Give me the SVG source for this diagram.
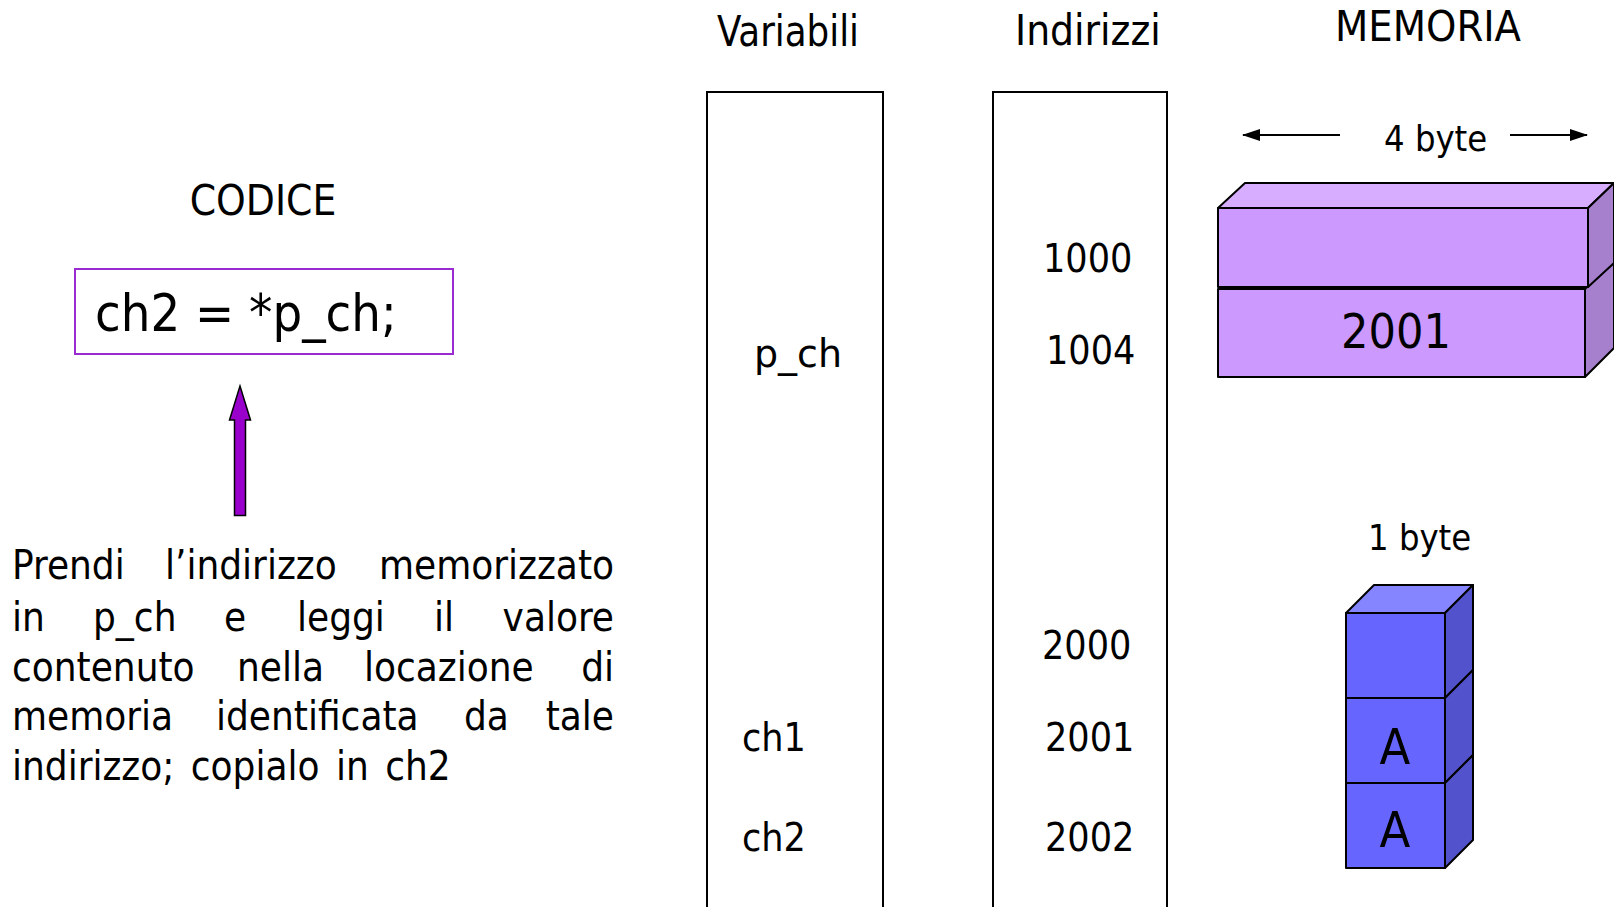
<svg xmlns="http://www.w3.org/2000/svg" width="1614" height="907" viewBox="0 0 1614 907">
<style>
text{font-family:"DejaVu Sans Condensed","DejaVu Sans",sans-serif;font-stretch:semi-condensed;fill:#000}
.h{font-size:42px}
.s{font-size:36px}
.n{font-size:39px}
.p{font-size:40px}
.col{fill:#fff;stroke:#000;stroke-width:2}
.pf{fill:#CC99FF;stroke:#000;stroke-width:2;stroke-linejoin:round}
.pt{fill:#D6ADFF;stroke:#000;stroke-width:2;stroke-linejoin:round}
.ps{fill:#A680CC;stroke:#000;stroke-width:2;stroke-linejoin:round}
.bf{fill:#6666FF;stroke:#000;stroke-width:2;stroke-linejoin:round}
.bt{fill:#8585FF;stroke:#000;stroke-width:2;stroke-linejoin:round}
.bs{fill:#5252CC;stroke:#000;stroke-width:2;stroke-linejoin:round}
.dim{stroke:#000;stroke-width:2;fill:none}
</style>
<defs>
<marker id="ah2" markerWidth="18" markerHeight="12" refX="17" refY="6" orient="auto" markerUnits="userSpaceOnUse" viewBox="0 0 18 12">
<path d="M0,0 L18,6 L0,12 z" fill="#000"/>
</marker>
</defs>

<g id="headings">
<text class="h" x="717" y="46" textLength="142" lengthAdjust="spacingAndGlyphs">Variabili</text>
<text class="h" x="1015" y="45">Indirizzi</text>
<text class="h" x="1335" y="41" textLength="186" lengthAdjust="spacingAndGlyphs">MEMORIA</text>
<text class="h" x="263" y="215" text-anchor="middle">CODICE</text>
</g>

<g id="code">
<rect x="75" y="269" width="378" height="85" fill="#fff" stroke="#9A2BD0" stroke-width="2"/>
<text x="95" y="331" font-size="52">ch2 = *p_ch;</text>
</g>

<g id="connectors">
<path d="M234.5,515.5 L245.5,515.5 L245.5,420 L250.5,420 L240,386 L229.5,420 L234.5,420 Z" fill="#9900CC" stroke="#000" stroke-width="1.5" stroke-linejoin="miter"/>
<line class="dim" x1="1340" y1="135" x2="1243" y2="135" marker-end="url(#ah2)"/>
<line class="dim" x1="1510" y1="135" x2="1587" y2="135" marker-end="url(#ah2)"/>
</g>

<g id="description">
<text class="p" x="12" y="579">Prendi</text>
<text class="p" x="165" y="579">l’indirizzo</text>
<text class="p" x="614" y="579" text-anchor="end">memorizzato</text>
<text class="p" x="12" y="631">in</text>
<text class="p" x="93" y="631">p_ch</text>
<text class="p" x="224" y="631">e</text>
<text class="p" x="297" y="631">leggi</text>
<text class="p" x="434" y="631">il</text>
<text class="p" x="614" y="631" text-anchor="end">valore</text>
<text class="p" x="12" y="681">contenuto</text>
<text class="p" x="237" y="681">nella</text>
<text class="p" x="364" y="681">locazione</text>
<text class="p" x="614" y="681" text-anchor="end">di</text>
<text class="p" x="12" y="730">memoria</text>
<text class="p" x="216" y="730">identificata</text>
<text class="p" x="464" y="730">da</text>
<text class="p" x="614" y="730" text-anchor="end">tale</text>
<text class="p" x="12" y="780" word-spacing="5">indirizzo; copialo in ch2</text>
</g>

<g id="variabili">
<rect class="col" x="707" y="92" width="176" height="830"/>
<text class="n" x="754" y="367" textLength="88" lengthAdjust="spacingAndGlyphs">p_ch</text>
<text class="n" x="742" y="751">ch1</text>
<text class="n" x="742" y="851">ch2</text>
</g>

<g id="indirizzi">
<rect class="col" x="993" y="92" width="174" height="830"/>
<text class="n" x="1043" y="272">1000</text>
<text class="n" x="1046" y="364">1004</text>
<text class="n" x="1042" y="659">2000</text>
<text class="n" x="1045" y="751">2001</text>
<text class="n" x="1045" y="851">2002</text>
</g>

<g id="word4">
<text class="s" x="1384" y="151">4 byte</text>
<polygon class="ps" points="1585,289 1614,263 1614,348 1585,377"/>
<rect class="pf" x="1218" y="289" width="367" height="88"/>
<polygon class="pt" points="1218,208 1245,183 1614,183 1588,208"/>
<polygon class="ps" points="1588,208 1614,183 1614,263 1588,287"/>
<rect class="pf" x="1218" y="208" width="370" height="79"/>
<text x="1396" y="348" font-size="48" text-anchor="middle">2001</text>
</g>

<g id="byte1">
<text class="s" x="1368" y="550">1 byte</text>
<polygon class="bt" points="1346,613 1374,585 1473,585 1445,613"/>
<polygon class="bs" points="1445,613 1473,585 1473,670 1445,698"/>
<rect class="bf" x="1346" y="613" width="99" height="85"/>
<polygon class="bs" points="1445,698 1473,670 1473,755 1445,783"/>
<rect class="bf" x="1346" y="698" width="99" height="85"/>
<polygon class="bs" points="1445,783 1473,755 1473,840 1445,868"/>
<rect class="bf" x="1346" y="783" width="99" height="85"/>
<text x="1395" y="764" font-size="50" text-anchor="middle">A</text>
<text x="1395" y="847" font-size="50" text-anchor="middle">A</text>
</g>
</svg>
